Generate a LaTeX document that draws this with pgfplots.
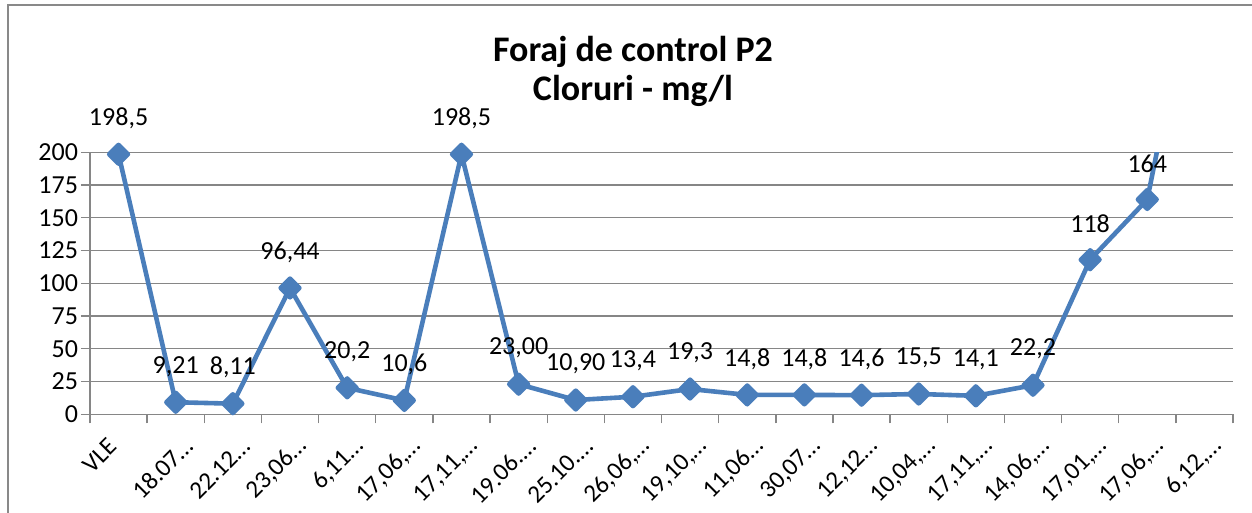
\documentclass[border=0pt]{standalone}
\usepackage{fontspec}
\setmainfont{Carlito}
\usepackage{pgfplots}
\pgfplotsset{compat=1.18}
\definecolor{serieblue}{HTML}{4A7EBB}
\definecolor{gridgray}{HTML}{868686}
\definecolor{framegray}{HTML}{898989}

\pgfplotstableread{
x  y      lab
0  198.5  198,5
1  9.21   9,21
2  8.11   8,11
3  96.44  96,44
4  20.2   20,2
5  10.6   10,6
6  198.5  198,5
7  23.00  23,00
8  10.90  10,90
9  13.4   13,4
10 19.3   19,3
11 14.8   14,8
12 14.8   14,8
13 14.6   14,6
14 15.5   15,5
15 14.1   14,1
16 22.2   22,2
17 118    118
18 164    164
}\cloruri

\begin{document}
\begin{tikzpicture}
\useasboundingbox (0,0) rectangle (626pt,256.5pt);
\draw[framegray, line width=1.2pt] (4pt,0) -- (4pt,254pt) -- (626pt,254pt);
\node[font=\fontsize{18}{21}\selectfont\bfseries, anchor=base] at (316.5pt,225.5pt) {Foraj de control P2};
\node[font=\fontsize{18}{21}\selectfont\bfseries, anchor=base] at (316.5pt,206pt) {Cloruri - mg/l};
\begin{axis}[
  at={(45pt,49.35pt)}, anchor=south west,
  width=571.5pt, height=131pt, scale only axis,
  xmin=-0.5, xmax=19.5, ymin=0, ymax=200,
  axis lines*=left,
  axis line style={gridgray, line width=0.7pt},
  tick style={gridgray, line width=0.7pt},
  tick align=outside, major tick length=4.5pt,
  ytick={0,25,...,200},
  ymajorgrids, grid style={gridgray, line width=0.7pt},
  xtick={-0.5,0.5,...,19.5},
  xticklabels={},
  extra x ticks={-0.33,1,2,...,19},
  extra x tick labels={{VLE},{18.07…},{22.12…},{23,06…},{6,11…},{17,06,…},{17,11,…},{19.06.…},{25.10.…},{26,06,…},{19,10,…},{11,06…},{30,07…},{12,12…},{10,04,…},{17,11,…},{14,06,…},{17,01,…},{17,06,…},{6,12,…}},
  extra x tick style={tick style={draw=none}},
  xticklabel style={xshift=9pt, yshift=-2pt, rotate=45, anchor=east, font=\fontsize{12.5}{15}\selectfont},
  xticklabel shift=5pt,
  yticklabel style={font=\fontsize{13}{16}\selectfont, xshift=2pt},
  /pgf/number format/assume math mode=true,
]
\addplot[serieblue, line width=2.3pt, line join=round, no marks, forget plot]
  coordinates {(18,164)(19,380)};
\addplot[serieblue, line width=2.3pt, line join=round,
  mark=square*, mark size=3.3pt, mark options={rotate=45, solid},
  nodes near coords, point meta=explicit symbolic,
  every node near coord/.append style={font=\fontsize{13}{16}\selectfont, text=black, anchor=center, yshift=18pt}]
  table[x=x, y=y, meta=lab] {\cloruri};
\end{axis}
\end{tikzpicture}
\end{document}
